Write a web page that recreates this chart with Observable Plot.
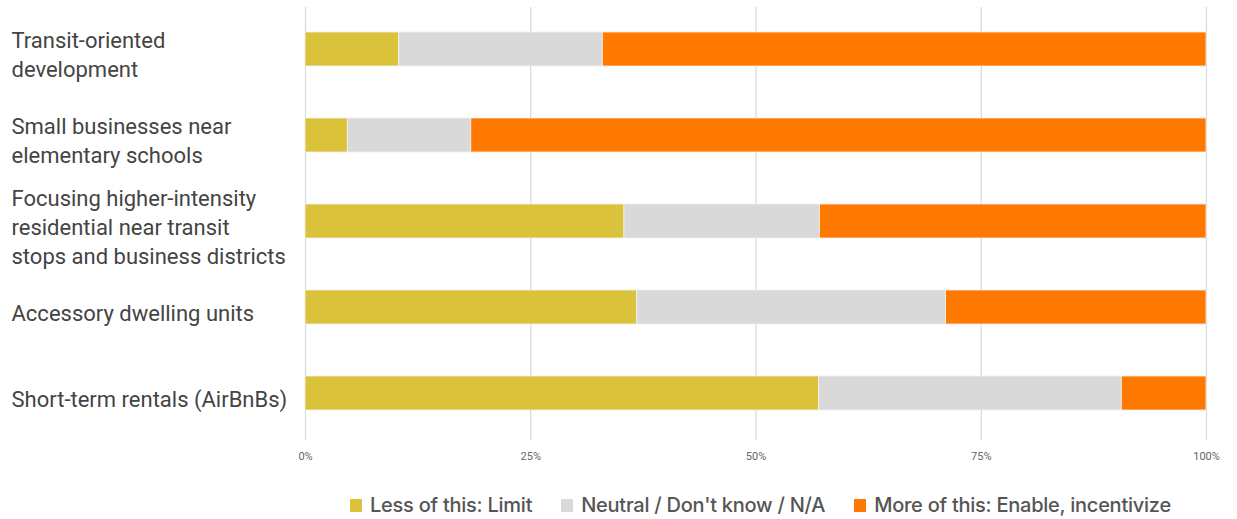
<!DOCTYPE html>
<html>
<head>
<meta charset="utf-8">
<script src="https://cdn.jsdelivr.net/npm/d3@7"></script>
<script src="https://cdn.jsdelivr.net/npm/@observablehq/plot@0.6"></script>
<style>
  html, body { margin: 0; padding: 0; background: #fff; }
  #chart svg { display: block; }
  .legend { display: flex; align-items: center; box-sizing: border-box; height: 39px; padding-top: 11px; padding-left: 350px;
    font-family: Inter, "Noto Sans", sans-serif; font-weight: 500; font-size: 20px; color: #555; letter-spacing: -0.25px; }
  .legend .item { display: flex; align-items: center; margin-right: 29px; }
  .legend .sw { width: 12px; height: 13px; margin-right: 8px; }
</style>
</head>
<body>
<div id="chart"></div>
<script>
const categories = [
  "Transit-oriented\ndevelopment",
  "Small businesses near\nelementary schools",
  "Focusing higher-intensity\nresidential near transit\nstops and business districts",
  "Accessory dwelling units",
  "Short-term rentals (AirBnBs)"
];
const series = ["Less of this: Limit", "Neutral / Don't know / N/A", "More of this: Enable, incentivize"];
const lessValues    = [10.4, 4.7, 35.4, 36.8, 57.0];
const neutralValues = [22.6, 13.7, 21.7, 34.3, 33.6];
const moreValues    = [67.0, 81.6, 42.9, 28.9, 9.4];
const colors = ["#DAC33A", "#D9D9D9", "#FF7900"];
const xTicks = [0, 25, 50, 75, 100];

const data = [];
[lessValues, neutralValues, moreValues].forEach((vals, si) => {
  categories.forEach((c, i) => data.push({category: c, series: series[si], value: vals[i]}));
});

const plot = Plot.plot({
  width: 1237,
  height: 480,
  marginLeft: 305,
  marginRight: 31,
  marginTop: 7,
  marginBottom: 40,
  style: {fontFamily: "Roboto, sans-serif", background: "#fff"},
  x: {domain: [0, 100], ticks: xTicks},
  y: {domain: categories, paddingInner: 0.606, paddingOuter: 0.31, align: 0.46},
  color: {domain: series, range: colors},
  marks: [
    Plot.gridX(xTicks, {stroke: "#d9d9d9", strokeOpacity: 1, strokeWidth: 1.2}),
    Plot.barX(data, Plot.stackX({order: series, x: "value", y: "category", fill: "series", stroke: "#f4f1ea", strokeWidth: 0.8})),
    Plot.axisX({ticks: xTicks, tickSize: 0, tickPadding: 12, tickFormat: d => d + "%", fontSize: 11, color: "#666", label: null}),
    Plot.axisY({tickSize: 0, tickPadding: 294, textAnchor: "start", fontSize: 22, lineHeight: 1.32, dy: 4, color: "#444", label: null})
  ]
});
document.getElementById("chart").appendChild(plot);

const legend = document.createElement("div");
legend.className = "legend";
series.forEach((s, i) => {
  const item = document.createElement("div");
  item.className = "item";
  const sw = document.createElement("div");
  sw.className = "sw";
  sw.style.background = colors[i];
  const t = document.createElement("span");
  t.textContent = s;
  item.appendChild(sw);
  item.appendChild(t);
  legend.appendChild(item);
});
document.getElementById("chart").appendChild(legend);
</script>
</body>
</html>
